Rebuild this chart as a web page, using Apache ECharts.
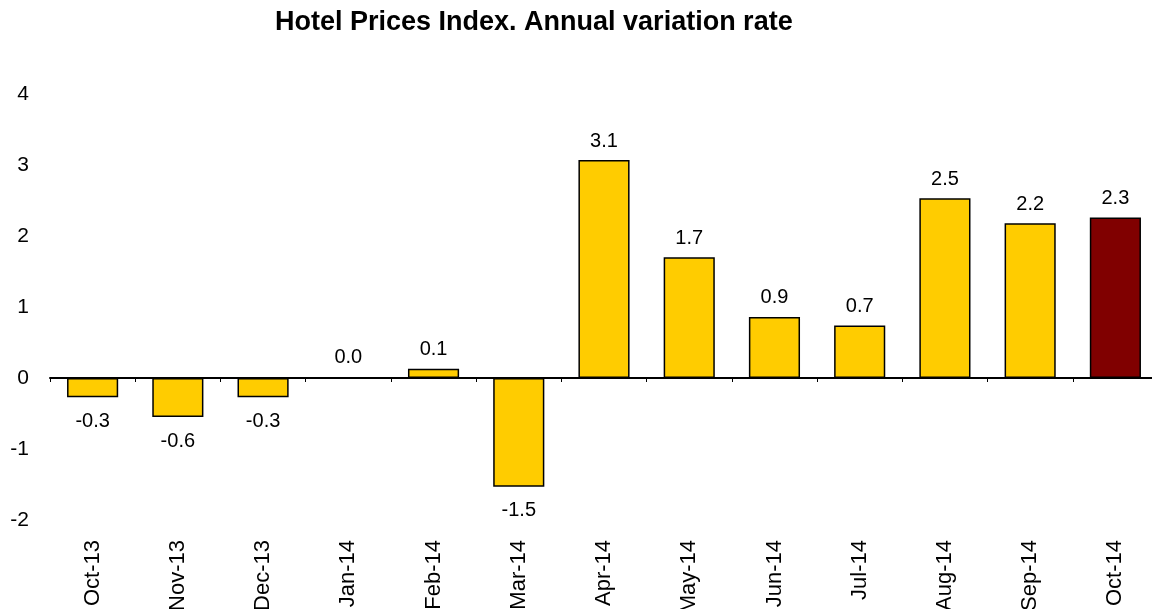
<!DOCTYPE html>
<html>
<head>
<meta charset="utf-8">
<script src="https://cdn.jsdelivr.net/npm/echarts@6/dist/echarts.min.js"></script>
<style>
html, body { margin:0; padding:0; background:#fff; }
#chart { width:1152px; height:609px; }
</style>
</head>
<body>
<div id="chart"></div>
<script>
var months = ['Oct-13','Nov-13','Dec-13','Jan-14','Feb-14','Mar-14','Apr-14','May-14','Jun-14','Jul-14','Aug-14','Sep-14','Oct-14'];
var rates = [-0.27, -0.55, -0.27, 0.01, 0.13, -1.53, 3.07, 1.70, 0.86, 0.74, 2.53, 2.18, 2.26];
var yTicks = [-2, -1, 0, 1, 2, 3, 4];

var font = 'Liberation Sans, Arial, sans-serif';

// last month in dark red, the rest yellow; negative bars get their label underneath
var barData = [];
for (var i = 0; i < rates.length; i++) {
	barData.push({
		value: rates[i],
		itemStyle: { color: i == rates.length - 1 ? '#800000' : '#FFCC00' },
		label: rates[i] < 0 ? { position: 'bottom', distance: 14 } : { position: 'top', distance: 9 }
	});
}

var myChart = echarts.init(document.getElementById('chart'));
var option = {
	animation: false,
	title: {
		text: 'Hotel Prices Index. Annual variation rate',
		left: 270,
		top: 4,
		textStyle: { fontFamily: font, fontSize: 27, fontWeight: 'bold', color: '#000' }
	},
	grid: { left: 50, right: -6, top: 94, bottom: 89, outerBoundsMode: 'none' },
	xAxis: [{
		type: 'category',
		data: months,
		axisLine: { onZero: true, lineStyle: { color: '#000', width: 2 } },
		axisTick: { show: true, length: 4, alignWithLabel: false, lineStyle: { color: '#000' } },
		axisLabel: { show: false }
	}, {
		type: 'category',
		data: months,
		position: 'bottom',
		axisLine: { show: false, onZero: false },
		axisTick: { show: false },
		axisLabel: { rotate: 90, margin: 20, fontFamily: font, fontSize: 22, color: '#000' }
	}],
	yAxis: {
		type: 'value',
		min: yTicks[0],
		max: yTicks[yTicks.length - 1],
		interval: 1,
		axisLine: { show: false },
		axisTick: { show: false },
		splitLine: { show: false },
		axisLabel: { margin: 21, fontFamily: font, fontSize: 21, color: '#000' }
	},
	series: [{
		type: 'bar',
		xAxisIndex: 0,
		barWidth: '60%',
		data: barData,
		itemStyle: { borderColor: '#000', borderWidth: 1.5 },
		label: {
			show: true,
			fontFamily: font,
			fontSize: 20,
			color: '#000',
			formatter: function(p) { return p.value.toFixed(1); }
		}
	}]
};
myChart.setOption(option);
</script>
</body>
</html>
